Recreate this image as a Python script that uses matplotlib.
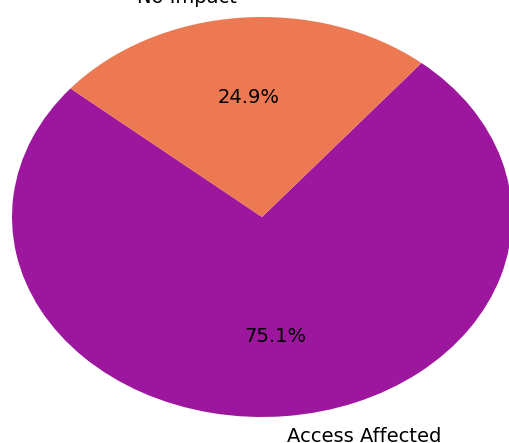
import matplotlib
matplotlib.use("Agg")
import matplotlib.pyplot as plt

labels = ["Access Affected", "No Impact"]
shares = [75.1, 24.9]
colors = ["#9C179E", "#ED7953"]

fig = plt.figure(figsize=(5.10, 4.43), dpi=100)
ax = fig.add_axes([0, 0, 1, 1])
ax.pie(shares, labels=labels, colors=colors, autopct="%1.1f%%",
       startangle=140, textprops={"fontsize": 14})
ax.set_aspect("auto")
ax.set_xlim(-1.048, 0.992)
ax.set_ylim(-1.13, 1.085)
fig.savefig("out.png", dpi=100)
